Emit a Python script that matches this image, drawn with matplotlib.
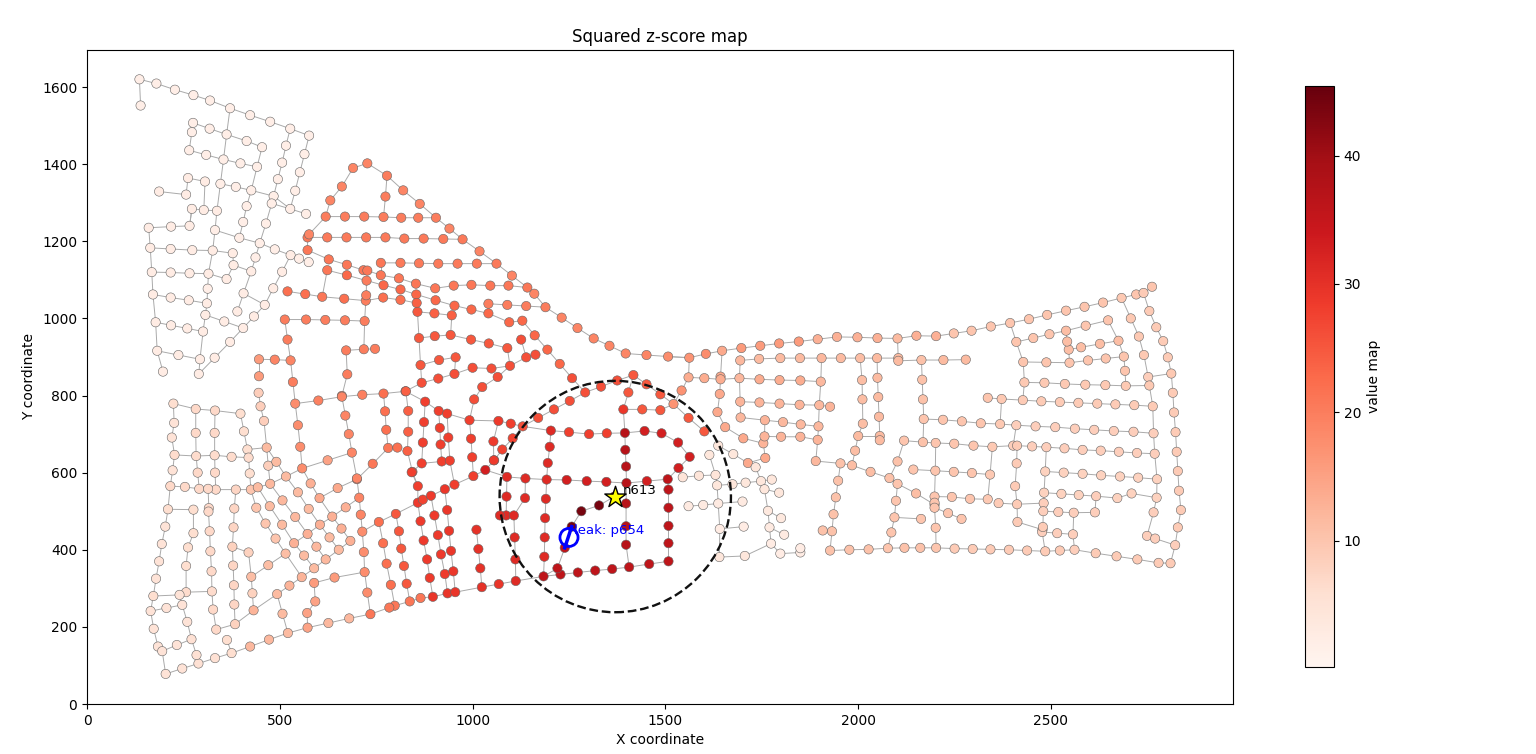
import matplotlib
matplotlib.use("Agg")
import matplotlib.pyplot as plt
from matplotlib.collections import LineCollection
from matplotlib.patches import Circle

# pipe runs per district: each run is a list of (x, y) junctions, one value per run
nw_runs = [
    [(139,1552),(136,1620),(180,1609),(228,1593),(276,1579),(319,1565),(371,1545),(423,1527),(475,1510),(527,1492),(576,1474),(564,1426),(552,1379),(540,1331),(527,1284),(568,1271)],
    [(371,1545),(362,1477),(354,1412),(346,1349),(337,1279),(332,1229),(326,1176),(315,1116),(313,1077),(311,1039),(307,1009),(301,966),(293,894),(290,856)],
    [(272,1483),(275,1507),(318,1492),(362,1477),(414,1460),(454,1444),(441,1393),(426,1332),(414,1291),(405,1250),(395,1209)],
    [(272,1483),(265,1436),(309,1424),(354,1412),(398,1402),(441,1393)],
    [(346,1349),(386,1341),(426,1332),(484,1317),(527,1284)],
    [(527,1492),(516,1448),(506,1404),(495,1361),(484,1317),(479,1298),(464,1246),(448,1195),(437,1158),(426,1122)],
    [(479,1298),(527,1284)],
    [(332,1229),(395,1209),(448,1195),(487,1179),(528,1164),(550,1155),(575,1146)],
    [(262,1364),(306,1355),(303,1281),(272,1284),(266,1240),(218,1238),(160,1235),(164,1183),(168,1120),(171,1062),(178,990),(182,916),(197,862)],
    [(187,1329),(257,1321),(262,1364)],
    [(303,1281),(337,1279)],
    [(272,1284),(266,1240)],
    [(164,1183),(217,1180),(273,1177),(326,1176),(378,1169),(380,1138),(362,1102),(315,1116)],
    [(168,1120),(217,1119),(266,1117),(315,1116)],
    [(380,1138),(426,1122),(406,1065),(390,1018)],
    [(406,1065),(461,1035),(483,1078),(506,1121),(528,1164)],
    [(461,1035),(433,1005),(405,975),(371,939),(331,898),(290,856)],
    [(405,975),(356,992),(307,1009)],
    [(171,1062),(217,1054),(264,1047),(311,1039)],
    [(178,990),(218,982),(260,974),(301,966)],
    [(182,916),(237,905),(293,894)],
]
nw_values = [2.0]*8 + [2.5]*13

sw_runs = [
    [(224,779),(226,729),(220,691),(227,646),(222,606),(216,565),(210,505),(203,460),(194,415),(187,370),(179,325),(172,280),(165,241),(173,195),(184,149),(195,137),(204,78),(247,92),(289,105)],
    [(224,779),(282,765),(332,761),(398,753),(407,707),(416,660),(419,639),(422,598),(425,556)],
    [(282,765),(282,703),(283,643),(287,600),(291,558)],
    [(332,761),(331,703),(331,645),(332,600),(334,556)],
    [(227,646),(283,643),(331,645),(375,641),(419,639)],
    [(216,565),(254,563),(291,558),(314,558),(334,556),(386,556),(425,556),(443,562)],
    [(210,505),(276,504),(276,443),(262,406),(257,358),(257,290),(240,283),(172,280)],
    [(314,558),(316,508),(315,499),(318,448),(320,396),(323,344),(324,292),(327,245),(335,193),(384,207)],
    [(257,290),(324,292)],
    [(165,241),(206,249),(247,257),(240,283)],
    [(247,257),(260,213),(271,168),(233,153),(195,137)],
    [(271,168),(284,127),(289,105),(332,119),(375,132),(423,149)],
    [(375,132),(363,166)],
    [(386,556),(382,507),(380,458),(377,408),(379,359),(381,308),(382,258),(384,207)],
    [(377,408),(419,393),(426,330),(429,287),(432,243),(384,207)],
    [(416,660),(466,665)],
]
sw_values = [5.0,6.0,7.0,7.0,6.5,7.0,6.0,7.0,6.5,5.0,5.0,5.5,6.0,7.5,8.0,6.0]

diag_runs = [
    [(425,556),(439,509),(463,468),(489,429),(515,390)],
    [(426,330),(470,360),(515,390),(557,329)],
    [(432,243),(493,285),(525,307),(557,329),(589,352),(619,375),(653,400),(683,423)],
    [(443,562),(475,571),(516,590),(558,611)],
    [(445,807),(450,772),(459,734),(466,665),(470,618),(475,571)],
    [(443,562),(474,513),(506,465),(537,417),(563,385),(589,352)],
    [(466,665),(491,628),(516,590),(547,549),(575,506),(604,465),(629,432),(653,400)],
    [(558,611),(580,572),(603,534),(636,486),(660,455),(683,423)],
    [(475,571),(507,528),(540,485),(572,441),(595,408),(619,375)],
    [(537,417),(572,441),(604,465),(636,486),(671,510),(706,535)],
    [(603,534),(650,560),(700,583)],
    [(423,149),(472,167),(521,184),(572,198),(626,210),(680,222),(735,233)],
    [(493,285),(507,234),(521,184)],
    [(589,314),(592,266),(571,236),(572,198)],
    [(589,314),(642,328),(720,342)],
    [(558,611),(624,632),(687,652)],
]
diag_values = [10.0,11.0,12.5,11.0,8.5,11.5,11.5,13.0,12.0,13.0,14.0,12.0,11.5,15.0,16.0,15.0]

orange_runs = [
    [(572,1210),(576,1218),(619,1264),(631,1306),(661,1342),(690,1390),(727,1402),(778,1370),(820,1332),(863,1297),(905,1261),(940,1233),(974,1205),(1018,1174),(1062,1142),(1102,1111),(1142,1080),(1160,1064),(1189,1029),(1231,1002),(1272,975),(1314,948),(1355,929),(1397,909),(1451,905),(1507,901),(1562,898)],
    [(778,1370),(774,1316),(769,1263)],
    [(619,1264),(669,1264),(719,1264),(769,1263),(815,1261),(859,1261),(905,1261)],
    [(572,1210),(623,1210),(673,1210),(724,1210),(774,1210),(823,1207),(873,1207),(924,1206),(974,1205)],
    [(572,1210),(572,1177),(627,1153),(674,1139),(717,1125),(727,1124),(762,1112),(809,1104),(853,1090),(903,1078),(951,1085),(997,1087),(1046,1085),(1093,1085),(1142,1080)],
    [(762,1144),(813,1144),(861,1143),(911,1142),(961,1142),(1011,1142),(1062,1142)],
    [(762,1144),(762,1112)],
    [(623,1125),(674,1112),(725,1098),(769,1086),(813,1075),(854,1062),(904,1047),(953,1033),(997,1023),(1041,1013),(1095,990),(1129,994),(1161,956),(1194,919),(1226,882),(1258,845)],
    [(520,1070),(566,1063),(610,1056),(667,1051),(723,1046),(768,1054),(813,1048),(855,1040)],
    [(623,1125),(610,1056)],
    [(725,1098),(724,1060),(723,1046),(720,993),(718,920),(672,917),(675,855),(661,799)],
    [(718,920),(747,921)],
    [(513,997),(568,997),(618,996),(669,995),(720,993)],
    [(513,997),(520,945),(528,891),(534,835),(540,779)],
    [(446,894),(487,893),(528,891)],
    [(446,894),(446,850)],
    [(1041,1038),(1090,1035),(1139,1032),(1189,1029)],
    [(855,1040),(857,1017),(901,1013),(946,1008),(943,957)],
    [(857,1017),(861,949),(865,879),(868,833),(826,811)],
    [(861,949),(902,954),(943,957),(996,945),(1042,935),(1090,923),(1097,877)],
    [(865,879),(913,892),(956,899),(953,856)],
    [(868,833),(911,844),(953,856),(1000,872),(1049,870),(1097,877),(1139,899),(1163,906)],
    [(1126,945),(1139,899)],
    [(1097,877),(1065,848),(1025,822),(1004,790),(992,736)],
    [(540,779),(600,787),(661,797),(714,802),(769,805),(827,811)],
    [(540,779),(547,723),(553,667),(558,611)],
    [(661,797),(670,748),(679,700),(687,652),(700,585),(706,535),(710,491),(714,447)],
    [(714,447),(757,472),(801,493),(858,522)],
    [(714,447),(718,394),(720,342),(727,289),(735,233)],
    [(769,805),(773,759),(776,711),(781,664),(805,665)],
    [(781,664),(741,623),(700,583)],
    [(827,811),(833,760),(833,706),(831,656),(844,602),(858,565),(858,522)],
    [(757,472),(768,417),(777,364),(788,309),(798,255)],
    [(801,493),(809,448),(815,403),(822,358),(829,312),(837,266)],
    [(735,233),(784,250),(798,255),(837,266),(865,275),(897,278)],
]
orange_values = [19.0,20.0,20.0,20.5,21.0,20.5,21.0,23.0,22.0,21.0,20.0,20.0,20.0,20.0,19.0,16.0,20.0,24.0,25.0,25.0,25.0,26.0,26.0,26.0,19.5,18.0,19.0,22.0,18.0,22.0,21.0,24.0,22.0,25.0,21.0]

core_runs = [
    [(826,811),(877,784),(912,760),(934,753),(992,736),(1067,734),(1099,727),(1130,720),(1203,709),(1250,705),(1302,700),(1348,702),(1395,703)],
    [(858,522),(871,530),(892,540),(928,557),(953,569),(1002,591),(1033,607),(1056,632),(1077,660),(1104,689),(1130,720)],
    [(877,784),(874,731),(871,678),(868,624),(842,601),(858,565)],
    [(912,760),(915,716),(917,673),(920,629)],
    [(868,624),(920,629),(941,631)],
    [(934,753),(937,691),(941,631),(953,569)],
    [(992,736),(996,688),(999,640),(1002,591)],
    [(1067,734),(1054,681),(1055,632)],
    [(892,540),(901,489),(910,438),(918,388),(928,337),(935,287)],
    [(928,557),(934,503),(939,449),(944,397),(950,344),(955,290)],
    [(858,522),(865,474),(873,424),(882,375),(889,327),(897,278)],
    [(897,278),(935,287),(955,290),(1024,303),(1068,311),(1112,319),(1184,331)],
    [(1010,452),(1015,402),(1020,352),(1024,303)],
    [(1130,720),(1170,742),(1211,764),(1252,786),(1292,808),(1333,823),(1375,839),(1417,853)],
    [(1258,845),(1292,808)],
    [(1391,764),(1404,808),(1417,853),(1451,829),(1487,803),(1521,778),(1560,742),(1601,707)],
    [(1391,764),(1440,764),(1487,762),(1521,778)],
    [(1395,703),(1391,764)],
]
core_values = [28.0,27.5,28.0,28.0,28.0,28.0,28.0,28.5,28.5,29.0,28.5,29.5,30.0,26.0,26.0,25.0,25.0,29.0]

center_runs = [
    [(1395,703),(1446,708),(1490,702),(1533,678),(1563,641),(1534,612),(1506,583),(1452,578),(1399,573),(1347,576),(1296,578),(1244,581),(1192,582),(1137,585),(1089,589),(1033,607)],
    [(1203,709),(1200,667),(1195,625),(1192,582),(1190,532),(1188,482),(1187,432),(1186,382),(1184,331)],
    [(1089,589),(1088,538),(1087,489),(1071,489)],
    [(1137,585),(1136,534),(1107,489),(1087,489)],
    [(1107,489),(1109,432),(1111,375),(1112,319)],
    [(1395,703),(1396,659),(1398,616),(1399,573)],
    [(1399,573),(1398,520),(1398,461),(1398,413),(1406,355)],
    [(1184,331),(1228,336),(1273,341),(1318,346),(1362,350),(1406,355),(1458,363),(1508,370)],
    [(1506,583),(1508,556),(1508,509),(1508,462),(1508,417),(1508,370)],
    [(1184,331),(1220,352),(1239,405),(1257,460)],
]
center_values = [33.0,31.0,31.0,31.0,31.0,37.0,37.0,36.0,36.0,36.0]

leak_runs = [[(1257,460),(1282,500),(1328,515),(1368,538)]]
leak_values = [44.0]

pale_runs = [
    [(1637,670),(1676,648),(1714,625),(1734,614),(1748,578),(1757,557),(1766,501),(1770,458),(1774,416),(1706,384),(1640,381),(1641,454),(1637,520),(1634,567),(1630,594),(1614,646)],
    [(1545,588),(1587,592),(1630,594)],
    [(1634,567),(1674,570),(1708,574),(1748,578)],
    [(1560,513),(1598,516),(1637,520),(1700,525)],
    [(1641,454),(1703,460)],
    [(1757,557),(1795,548)],
    [(1748,578),(1776,582)],
    [(1766,501),(1800,482)],
    [(1770,458),(1808,439)],
    [(1774,416),(1798,390),(1850,393),(1850,404)],
]
pale_values = [4.0,4.5,4.0,3.0,2.5,4.0,4.0,3.5,3.0,2.5]

mid_runs = [
    [(1507,901),(1562,898),(1605,908),(1647,916)],
    [(1647,916),(1697,923),(1746,929),(1795,935),(1846,940),(1895,946)],
    [(1895,946),(1945,952),(1998,951),(2050,949),(2102,948),(2151,955),(2202,954),(2248,961)],
    [(1694,891),(1743,895),(1798,897),(1849,897),(1905,897),(1955,897),(2005,897),(2049,897),(2104,897),(2104,890),(2164,892),(2221,892),(2279,893)],
    [(1647,916),(1643,849),(1641,804),(1635,757),(1655,718),(1702,689),(1754,676),(1759,638),(1714,625)],
    [(1562,898),(1560,847),(1542,813),(1521,778)],
    [(1560,847),(1601,845),(1643,842),(1692,845),(1744,842),(1796,840),(1850,839),(1903,836)],
    [(1694,891),(1692,845),(1694,784),(1695,743),(1758,736),(1805,731),(1851,725),(1897,720),(1895,685),(1890,630),(1954,624),(1984,619)],
    [(1694,784),(1744,782),(1796,779),(1848,776),(1899,775),(1927,771)],
    [(1905,897),(1903,836),(1899,775),(1897,720)],
    [(1758,736),(1757,694),(1754,676)],
    [(1757,694),(1800,693),(1850,693),(1895,685)],
    [(2005,897),(2010,840),(2011,790),(2012,727),(2000,695),(1992,657),(1984,619),(2032,602),(2081,586),(2102,571),(2150,546),(2198,517)],
    [(2049,897),(2050,846),(2052,796),(2054,745),(2056,695),(2056,684)],
    [(2000,695),(2056,695)],
    [(1954,624),(1948,579),(1942,536),(1936,492),(1932,448),(1927,398),(1977,400),(2027,401),(2077,404),(2120,405),(2161,405),(2202,405),(2250,403)],
    [(1908,450),(1932,448)],
    [(2119,683),(2102,629),(2081,586)],
    [(2119,683),(2168,679),(2201,677),(2249,675),(2299,670),(2348,667),(2402,670)],
    [(2104,890),(2102,948)],
    [(2164,892),(2166,841),(2168,790),(2170,739),(2168,679)],
    [(2170,739),(2220,737),(2269,733),(2318,728),(2368,726),(2410,723)],
    [(2201,677),(2200,605),(2198,538),(2198,522),(2198,509),(2201,457),(2202,405)],
    [(2143,608),(2200,605),(2248,602),(2295,599),(2342,595)],
    [(2198,538),(2243,537),(2290,532),(2336,531)],
    [(2198,509),(2233,495),(2268,480)],
    [(2102,571),(2098,527),(2094,484),(2086,445),(2077,404)],
    [(2094,484),(2163,480)],
]
mid_values = [18.0,16.0,13.0,11.5,14.0,17.0,13.5,12.0,12.5,12.0,12.5,12.5,11.0,11.5,11.5,10.5,10.5,10.5,10.0,11.5,10.5,10.0,10.0,10.0,10.0,10.0,10.0,10.0]

east_runs = [
    [(2248,961),(2294,968),(2344,979),(2394,988),(2443,998),(2490,1009),(2539,1020),(2587,1030),(2635,1041),(2683,1053),(2721,1062),(2740,1066),(2762,1082)],
    [(2250,403),(2297,402),(2343,401),(2391,400),(2438,398),(2485,396),(2523,398),(2561,400),(2616,391),(2670,383),(2724,375),(2779,366),(2810,365),(2822,412),(2829,458),(2837,503),(2832,553),(2829,604),(2826,654),(2823,705),(2819,756),(2816,807),(2812,857),(2803,899),(2791,941),(2773,977),(2755,1019),(2740,1066)],
    [(2683,1053),(2707,1000),(2728,953),(2741,905),(2752,848),(2812,857)],
    [(2752,848),(2755,826),(2764,772),(2766,702),(2769,649),(2775,583),(2774,535),(2766,497),(2749,436),(2770,429),(2822,412)],
    [(2394,988),(2410,939),(2428,887),(2431,834),(2427,788),(2372,791),(2336,794)],
    [(2410,939),(2454,949),(2496,959),(2539,968),(2590,981),(2648,995),(2675,942),(2689,901),(2692,864),(2694,825)],
    [(2675,942),(2627,934),(2578,925),(2546,919)],
    [(2539,968),(2542,940),(2546,919),(2548,885)],
    [(2428,887),(2488,886),(2548,885),(2596,891),(2642,896),(2689,901)],
    [(2431,834),(2483,833),(2536,830),(2589,828),(2641,827),(2694,825),(2755,826)],
    [(2427,788),(2475,785),(2523,783),(2571,781),(2620,779),(2667,777),(2716,775),(2764,772)],
    [(2372,791),(2368,726)],
    [(2410,723),(2460,720),(2511,718),(2562,714),(2612,711),(2663,708),(2714,706),(2766,702)],
    [(2410,723),(2402,670),(2412,670),(2451,668),(2488,666),(2535,663),(2582,659),(2629,657),(2676,654),(2723,651),(2769,649)],
    [(2342,595),(2348,667)],
    [(2342,595),(2336,531)],
    [(2412,670),(2411,624),(2407,565),(2412,518),(2413,472),(2478,452),(2477,446),(2485,396)],
    [(2364,521),(2412,518),(2481,521),(2480,500),(2479,459),(2477,446)],
    [(2488,666),(2485,603),(2482,548),(2481,521)],
    [(2485,603),(2533,600),(2582,597),(2630,593),(2679,590),(2726,587),(2775,583)],
    [(2482,548),(2527,545),(2572,542),(2617,539),(2672,534),(2709,546),(2774,535)],
    [(2480,500),(2519,498),(2559,496),(2614,497),(2617,539)],
    [(2559,496),(2557,440),(2561,400)],
    [(2477,446),(2516,443),(2557,440)],
]
east_values = [10.0,9.0,9.5,8.5,10.0,10.0,11.0,11.0,10.0,9.5,9.0,9.5,8.5,8.5,9.5,9.5,9.0,9.0,8.5,8.0,8.0,8.5,8.5,8.5]

all_runs = nw_runs + sw_runs + diag_runs + orange_runs + core_runs + center_runs + leak_runs + pale_runs + mid_runs + east_runs
all_values = nw_values + sw_values + diag_values + orange_values + core_values + center_values + leak_values + pale_values + mid_values + east_values

star_x, star_y = 1370, 538
leak_x, leak_y = 1250, 432
search_radius = 300
vmin_map, vmax_map = 0.16, 45.42

# junctions are shared between runs, keep each node once
nodes = {}
for run, value in zip(all_runs, all_values):
    for point in run:
        nodes[point] = value
node_x = [p[0] for p in nodes]
node_y = [p[1] for p in nodes]
node_v = list(nodes.values())

fig = plt.figure(figsize=(15.36, 7.54), dpi=100)
ax = fig.add_axes([87/1536, 50/754, 1146/1536, 654/754])
cax = fig.add_axes([1305/1536, 87/754, 29/1536, 581/754])

ax.add_collection(LineCollection(all_runs, colors="#aaaaaa", linewidths=0.7, zorder=1))
sc = ax.scatter(node_x, node_y, c=node_v, cmap="Reds", vmin=vmin_map, vmax=vmax_map,
                s=45, edgecolors="#666666", linewidths=0.4, zorder=2)

# search area, true leak and estimated node
ax.add_patch(Circle((star_x, star_y), search_radius, fill=False, ec="#111111", ls="--", lw=1.7, zorder=3))
ax.plot([1239, 1257], [405, 460], color="blue", lw=2.5, zorder=4)
ax.scatter([leak_x], [leak_y], s=170, facecolors="none", edgecolors="blue", linewidths=2, zorder=4)
ax.text(1262, 449, "leak: p654", color="blue", fontsize=9.5, va="center", zorder=5)
ax.scatter([star_x], [star_y], marker="*", s=260, c="yellow", edgecolors="black", linewidths=1, zorder=5)
ax.text(1390, 553, "n613", color="black", fontsize=9.5, va="center", zorder=5)

ax.set_xlim(0, 2972)
ax.set_ylim(0, 1696)
ax.set_title("Squared z-score map")
ax.set_xlabel("X coordinate")
ax.set_ylabel("Y coordinate")

fig.colorbar(sc, cax=cax, label="value map")
fig.savefig("out.png", dpi=100)
